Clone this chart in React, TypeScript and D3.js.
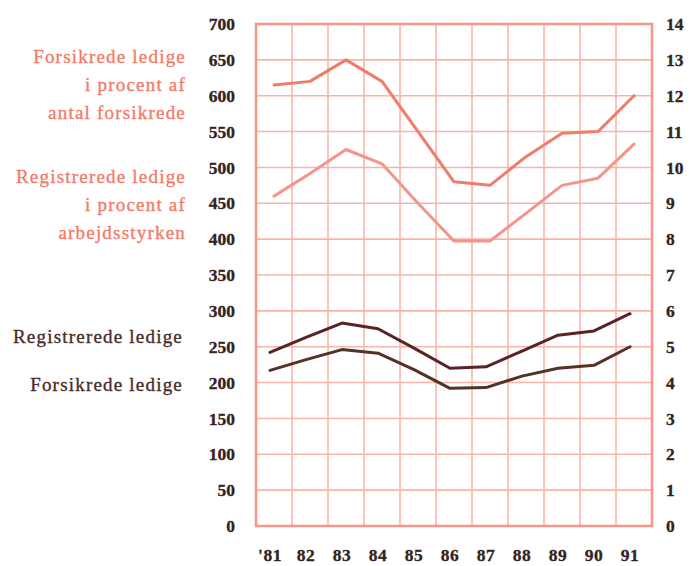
import React from "react";
import * as d3 from "d3";

const years = ["'81", "82", "83", "84", "85", "86", "87", "88", "89", "90", "91"];
const registreredeLedige = [242, 263, 283, 275, 248, 220, 222, 244, 266, 272, 296];
const forsikredeLedige = [217, 232, 246, 241, 218, 192, 193, 209, 220, 224, 250];
const forsikredePct = [12.3, 12.4, 13.0, 12.4, 11.0, 9.6, 9.5, 10.3, 10.95, 11.0, 12.0];
const registreredePct = [9.2, 9.83, 10.5, 10.1, 9.0, 7.95, 7.95, 8.72, 9.5, 9.7, 10.65];
const leftTicks = d3.range(0, 701, 50);
const rightTicks = d3.range(0, 15, 1);

const W = 697;
const H = 566;
const M = { left: 256, right: 652, top: 24, bottom: 526 };

const PINK = "#f07c6a";
const PINK2 = "#f3958a";
const GRID = "#f9b4aa";
const BORDER = "#f4998a";
const DARK = "#582424";
const DARK2 = "#553226";
const TICK = "#33221e";
const LABEL_DARK = "#4a2c26";

export default function App() {
  const x = d3.scaleBand<string>().domain(years).range([M.left, M.right]).padding(0);
  const bw = x.bandwidth();
  const yL = d3.scaleLinear().domain([0, 700]).range([M.bottom, M.top]);
  const yR = d3.scaleLinear().domain([0, 14]).range([M.bottom, M.top]);

  const darkOff = -4;
  const cx = (i: number) => (x(years[i]) as number) + bw / 2;

  const lineL = d3
    .line<number>()
    .x((_, i) => cx(i) + darkOff)
    .y((d) => yL(d));
  const lineR = d3
    .line<number>()
    .x((_, i) => cx(i))
    .y((d) => yR(d));

  const edges = [...years.map((y) => x(y) as number), M.right];
  const serif = "'Liberation Serif', 'Times New Roman', serif";

  return (
    <svg
      width={W}
      height={H}
      style={{ position: "absolute", left: 0, top: 0, background: "#fff" }}
      fontFamily={serif}
    >
      {/* grid */}
      {leftTicks.map((t) => (
        <line
          key={"h" + t}
          x1={M.left}
          x2={M.right}
          y1={yL(t)}
          y2={yL(t)}
          stroke={GRID}
          strokeWidth={1.6}
        />
      ))}
      {edges.map((e, i) => (
        <line key={"v" + i} x1={e} x2={e} y1={M.top} y2={M.bottom} stroke={GRID} strokeWidth={1.6} />
      ))}
      <rect
        x={M.left}
        y={M.top}
        width={M.right - M.left}
        height={M.bottom - M.top}
        fill="none"
        stroke={BORDER}
        strokeWidth={2.6}
      />

      {/* lines */}
      <path d={lineR(forsikredePct) || ""} fill="none" stroke={PINK} strokeWidth={3} strokeLinejoin="round" strokeLinecap="round" />
      <path d={lineR(registreredePct) || ""} fill="none" stroke={PINK2} strokeWidth={3} strokeLinejoin="round" strokeLinecap="round" />
      <path d={lineL(registreredeLedige) || ""} fill="none" stroke={DARK} strokeWidth={3} strokeLinejoin="round" strokeLinecap="round" />
      <path d={lineL(forsikredeLedige) || ""} fill="none" stroke={DARK2} strokeWidth={3} strokeLinejoin="round" strokeLinecap="round" />

      {/* left axis */}
      <g fontSize={17.5} fontWeight="bold" fill={TICK} stroke={TICK} strokeWidth={0.3}>
        {leftTicks.map((t) => (
          <text key={"lt" + t} x={235} y={yL(t)} dy="0.35em" textAnchor="end">
            {t}
          </text>
        ))}
        {rightTicks.map((t) => (
          <text key={"rt" + t} x={666} y={yR(t)} dy="0.35em" textAnchor="start">
            {t}
          </text>
        ))}
        {years.map((y, i) => (
          <text key={"x" + y} x={cx(i) + darkOff} y={561} textAnchor="middle" letterSpacing={0.5}>
            {y}
          </text>
        ))}
      </g>

      {/* series labels */}
      <g fontSize={19} letterSpacing={1.2} textAnchor="end" strokeWidth={0.35}>
        <text x={186} y={63} fill={PINK} stroke={PINK}>Forsikrede ledige</text>
        <text x={186} y={91} fill={PINK} stroke={PINK}>i procent af</text>
        <text x={186} y={119} fill={PINK} stroke={PINK}>antal forsikrede</text>
        <text x={186} y={183} fill={PINK} stroke={PINK}>Registrerede ledige</text>
        <text x={186} y={211} fill={PINK} stroke={PINK}>i procent af</text>
        <text x={186} y={239} fill={PINK} stroke={PINK}>arbejdsstyrken</text>
        <text x={183} y={343} fill={LABEL_DARK} stroke={LABEL_DARK}>Registrerede ledige</text>
        <text x={183} y={391} fill={LABEL_DARK} stroke={LABEL_DARK}>Forsikrede ledige</text>
      </g>
    </svg>
  );
}
